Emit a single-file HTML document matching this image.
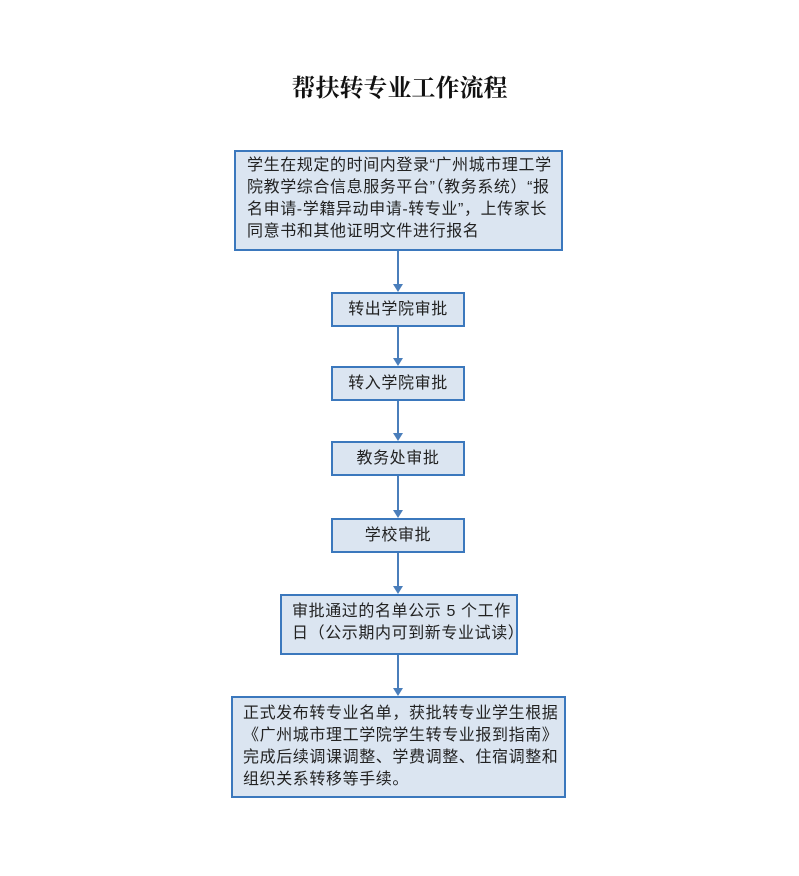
<!DOCTYPE html>
<html><head><meta charset="utf-8"><style>
body{margin:0;width:799px;height:876px;background:#fff;position:relative;overflow:hidden;font-family:"Liberation Sans","Noto Sans CJK SC",sans-serif;color:#222}
.t{position:absolute;left:0;width:799px;top:68px;text-align:center;font-family:"Liberation Serif","Noto Serif CJK SC",serif;font-weight:bold;font-size:24px;color:#111}
.b{position:absolute;box-sizing:border-box;background:#dbe5f1;border:2px solid #3b78bd;font-size:16px;line-height:22px;white-space:nowrap;letter-spacing:0.6px}
.c{text-align:center;display:flex;align-items:center;justify-content:center}
.l{position:absolute;left:397px;width:2px;background:#4a7ebb}
.a{position:absolute;left:393px;width:0;height:0;border-left:5px solid transparent;border-right:5px solid transparent;border-top:8px solid #4a7ebb}
</style></head><body>
<div class="t">帮扶转专业工作流程</div>
<div class="b" style="left:234px;top:150px;width:329px;height:101px;padding:3px 0 0 11px;">学生在规定的时间内登录“广州城市理工学<br>院教学综合信息服务平台”（教务系统）“报<br>名申请-学籍异动申请-转专业”，上传家长<br>同意书和其他证明文件进行报名</div>
<div class="l" style="top:251px;height:35px"></div><div class="a" style="top:284px"></div>
<div class="b c" style="left:331px;top:292px;width:134px;height:35px">转出学院审批</div>
<div class="l" style="top:327px;height:33px"></div><div class="a" style="top:358px"></div>
<div class="b c" style="left:331px;top:366px;width:134px;height:35px">转入学院审批</div>
<div class="l" style="top:401px;height:34px"></div><div class="a" style="top:433px"></div>
<div class="b c" style="left:331px;top:441px;width:134px;height:35px">教务处审批</div>
<div class="l" style="top:476px;height:36px"></div><div class="a" style="top:510px"></div>
<div class="b c" style="left:331px;top:518px;width:134px;height:35px">学校审批</div>
<div class="l" style="top:553px;height:35px"></div><div class="a" style="top:586px"></div>
<div class="b" style="left:280px;top:594px;width:238px;height:61px;padding:5px 0 0 10px;">审批通过的名单公示 5 个工作<br>日（公示期内可到新专业试读）</div>
<div class="l" style="top:655px;height:35px"></div><div class="a" style="top:688px"></div>
<div class="b" style="left:231px;top:696px;width:335px;height:102px;padding:5px 0 0 10px;">正式发布转专业名单，获批转专业学生根据<br>《广州城市理工学院学生转专业报到指南》<br>完成后续调课调整、学费调整、住宿调整和<br>组织关系转移等手续。</div>
</body></html>
